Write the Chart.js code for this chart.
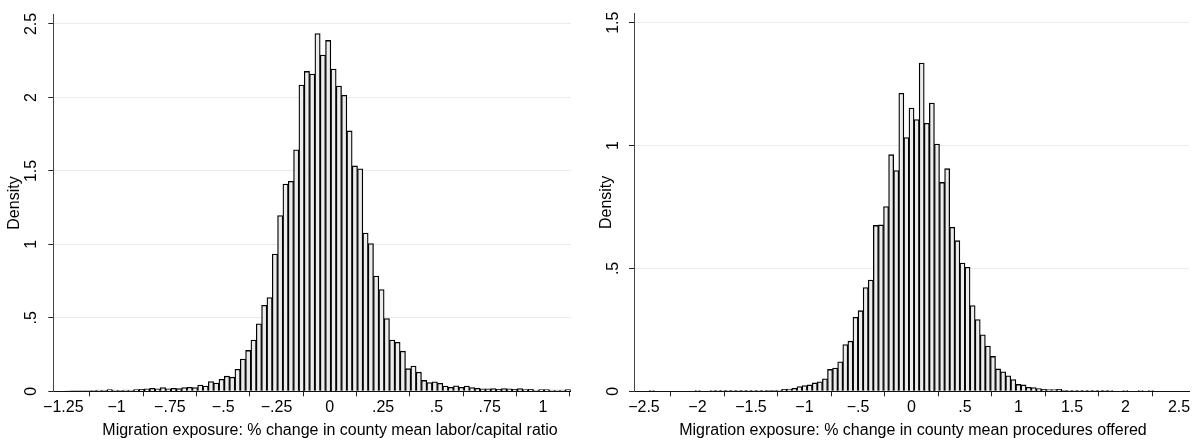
<!DOCTYPE html>
<html lang="en">
<head>
<meta charset="UTF-8">
<title>Migration exposure histograms</title>
<script src="https://cdn.jsdelivr.net/npm/chart.js"></script>
<style>
    body { margin: 0; background: #fff; }
    .painel { position: absolute; top: 0; height: 443px; }
    #painelLabor { left: 0; width: 590px; }
    #painelProc { left: 590px; width: 605px; }
</style>
</head>
<body>
    <div class="painel" id="painelLabor"><canvas id="graficoLabor" width="590" height="443"></canvas></div>
    <div class="painel" id="painelProc"><canvas id="graficoProc" width="605" height="443"></canvas></div>

<script>
    // histograma 1: labor/capital ratio (95 bins, largura .025)
    const laborBinStart = -1.245;
    const laborBinWidth = 0.025;
    const laborDensity = [
        0.004, 0.005, 0.005, 0.005, 0.005, 0.007, 0.009, 0.007, 0.011, 0.009,
        0.007, 0.009, 0.009, 0.011, 0.013, 0.016, 0.020, 0.016, 0.025, 0.016,
        0.020, 0.018, 0.025, 0.027, 0.025, 0.043, 0.036, 0.067, 0.056, 0.081,
        0.103, 0.096, 0.150, 0.220, 0.278, 0.349, 0.459, 0.585, 0.638, 0.934,
        1.196, 1.411, 1.429, 1.644, 2.085, 2.177, 2.159, 2.435, 2.289, 2.388,
        2.193, 2.077, 2.014, 1.772, 1.534, 1.514, 1.077, 1.006, 0.784, 0.692,
        0.495, 0.349, 0.333, 0.273, 0.154, 0.172, 0.130, 0.074, 0.060, 0.065,
        0.054, 0.036, 0.027, 0.038, 0.027, 0.036, 0.025, 0.020, 0.016, 0.016,
        0.018, 0.013, 0.018, 0.016, 0.013, 0.018, 0.011, 0.013, 0.009, 0.011,
        0.011, 0.009, 0.009, 0.009, 0.011
    ];
    const laborXTicks = [-1.25, -1, -0.75, -0.5, -0.25, 0, 0.25, 0.5, 0.75, 1];
    const laborXLabels = ['\u22121.25', '\u22121', '\u2212.75', '\u2212.5', '\u2212.25', '0', '.25', '.5', '.75', '1'];
    const laborYTicks = [0, 0.5, 1, 1.5, 2, 2.5];
    const laborYLabels = ['0', '.5', '1', '1.5', '2', '2.5'];

    // histograma 2: procedures offered (109 bins)
    const procBinStart = -2.593;
    const procBinWidth = 0.04758;
    const procDensity = [
        0, 0, 0, 0.003, 0, 0, 0, 0, 0, 0,
        0, 0, 0.003, 0, 0, 0.003, 0.003, 0.003, 0.003, 0.003,
        0.003, 0.003, 0.003, 0.003, 0.003, 0.003, 0.004, 0.004, 0.005, 0.008,
        0.009, 0.012, 0.019, 0.023, 0.026, 0.034, 0.039, 0.051, 0.089, 0.095,
        0.120, 0.190, 0.204, 0.301, 0.328, 0.422, 0.453, 0.675, 0.677, 0.752,
        0.963, 0.898, 1.213, 1.033, 1.153, 1.106, 1.336, 1.091, 1.173, 1.006,
        0.850, 0.906, 0.667, 0.613, 0.522, 0.505, 0.349, 0.292, 0.230, 0.184,
        0.142, 0.091, 0.079, 0.063, 0.048, 0.028, 0.026, 0.016, 0.015, 0.011,
        0.008, 0.007, 0.007, 0.008, 0.004, 0.003, 0.003, 0.003, 0.003, 0.003,
        0.003, 0.003, 0.003, 0.003, 0, 0, 0.003, 0, 0, 0.003,
        0, 0.003, 0, 0, 0, 0, 0, 0, 0
    ];
    const procXTicks = [-2.5, -2, -1.5, -1, -0.5, 0, 0.5, 1, 1.5, 2, 2.5];
    const procXLabels = ['\u22122.5', '\u22122', '\u22121.5', '\u22121', '\u2212.5', '0', '.5', '1', '1.5', '2', '2.5'];
    const procYTicks = [0, 0.5, 1, 1.5];
    const procYLabels = ['0', '.5', '1', '1.5'];

    const tamanhoFonte = 16;
    Chart.defaults.font.family = '"Liberation Sans", Arial, Helvetica, sans-serif';
    Chart.defaults.font.size = tamanhoFonte;
    Chart.defaults.color = '#000';

    // titulo do eixo x desenhado a parte (no Stata ele nao fica centrado no plot da esquerda)
    const tituloX = {
        id: 'tituloX',
        afterDraw(chart, args, opts) {
            const area = chart.chartArea;
            const ctx = chart.ctx;
            ctx.save();
            ctx.font = tamanhoFonte + 'px "Liberation Sans", Arial, sans-serif';
            ctx.fillStyle = '#000';
            ctx.textAlign = 'center';
            ctx.textBaseline = 'middle';
            ctx.fillText(opts.text, (area.left + area.right) / 2 + opts.shift, opts.y);
            ctx.restore();
        }
    };

    function criarHistograma(idCanvas, p) {
        let pontos = [];
        for (let i = 0; i < p.densidade.length; i++) {
            pontos.push({ x: p.inicio + p.largura * (i + 0.5), y: p.densidade[i] });
        }

        return new Chart(document.getElementById(idCanvas), {
            type: 'bar',
            data: {
                datasets: [{
                    data: pontos,
                    backgroundColor: '#ececec',
                    borderColor: '#000',
                    borderWidth: 1.3,
                    barPercentage: 1,
                    categoryPercentage: 1
                }]
            },
            options: {
                responsive: false,
                animation: false,
                layout: { padding: { top: 10, right: p.margemDireita, left: 0, bottom: 0 } },
                plugins: {
                    legend: { display: false },
                    tooltip: { enabled: false },
                    tituloX: { text: p.titulo, shift: p.deslocTitulo, y: 431 }
                },
                scales: {
                    x: {
                        type: 'linear',
                        offset: false,
                        min: p.xMin,
                        max: p.xMax,
                        afterBuildTicks: (s) => { s.ticks = p.xTicks.map(v => ({ value: v })); },
                        afterFit: (s) => { s.height = 51.7; },
                        grid: { drawOnChartArea: false, tickLength: 5, tickColor: '#222' },
                        border: { color: '#111' },
                        ticks: {
                            autoSkip: false, maxRotation: 0, padding: 1.8,
                            callback: (v, i) => p.xLabels[i]
                        }
                    },
                    y: {
                        min: 0,
                        max: p.yMax,
                        afterBuildTicks: (s) => { s.ticks = p.yTicks.map(v => ({ value: v })); },
                        afterFit: (s) => { s.width = p.larguraEixoY; },
                        grid: { color: '#e4edf0', tickLength: 5, tickColor: '#222' },
                        border: { color: '#444' },
                        ticks: {
                            minRotation: 90, maxRotation: 90, crossAlign: 'center',
                            padding: p.padTicksY,
                            callback: (v, i) => p.yLabels[i]
                        },
                        title: {
                            display: true, text: 'Density',
                            padding: { top: p.padTituloY, bottom: 0 }
                        }
                    }
                }
            },
            plugins: [tituloX]
        });
    }

    criarHistograma('graficoLabor', {
        inicio: laborBinStart, largura: laborBinWidth, densidade: laborDensity,
        xMin: -1.297, xMax: 1.13, yMax: 2.5625,
        xTicks: laborXTicks, xLabels: laborXLabels,
        yTicks: laborYTicks, yLabels: laborYLabels,
        margemDireita: 19.3, larguraEixoY: 53.3, padTicksY: 5.2, padTituloY: 4.9,
        titulo: 'Migration exposure: % change in county mean labor/capital ratio',
        deslocTitulo: 18
    });

    criarHistograma('graficoProc', {
        inicio: procBinStart, largura: procBinWidth, densidade: procDensity,
        xMin: -2.593, xMax: 2.593, yMax: 1.5375,
        xTicks: procXTicks, xLabels: procXLabels,
        yTicks: procYTicks, yLabels: procYLabels,
        margemDireita: 6, larguraEixoY: 44, padTicksY: 3.9, padTituloY: 7.1,
        titulo: 'Migration exposure: % change in county mean procedures offered',
        deslocTitulo: 1.5
    });
</script>
</body>
</html>
